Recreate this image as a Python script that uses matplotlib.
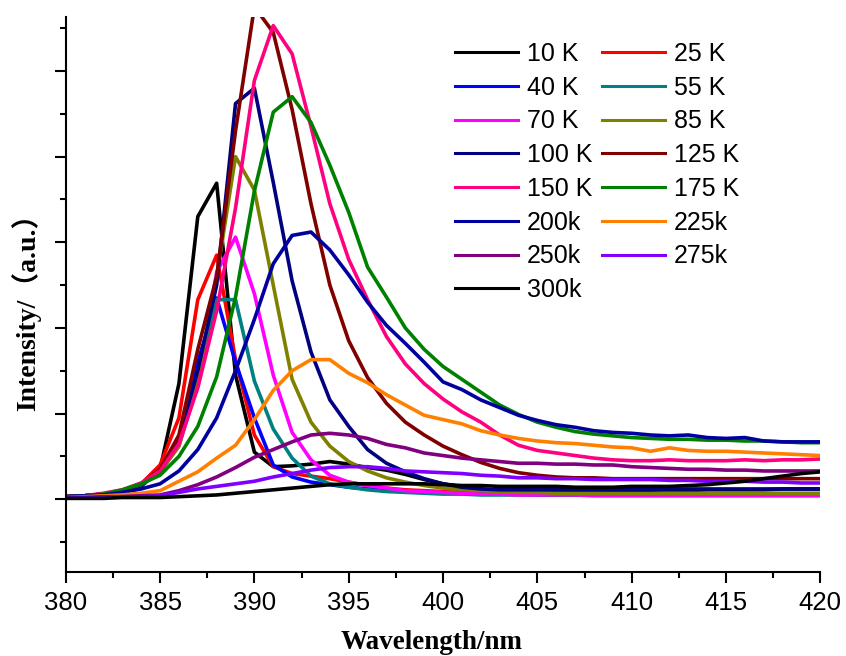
import numpy as np
import matplotlib.pyplot as plt
from matplotlib.ticker import MultipleLocator

plt.rcParams['font.family'] = ['Liberation Sans', 'DejaVu Sans']

# wavelength grid (nm), 1 nm steps
wavelength = np.arange(380, 421)

labels = ['10 K', '25 K', '40 K', '55 K', '70 K', '85 K', '100 K', '125 K',
          '150 K', '175 K', '200k', '225k', '250k', '275k', '300k']
colors = ['#000000', '#FF0000', '#0000FF', '#008080', '#FF00FF', '#808000',
          '#000080', '#800000', '#FF0080', '#008000', '#0000A0', '#FF8000',
          '#800080', '#8000FF', '#000000']

# intensities (arbitrary units)
k10 = [0.02, 0.03, 0.05, 0.08, 0.15, 0.35,
       1.35, 3.3, 3.69, 1.45, 0.55,
       0.38, 0.39, 0.41, 0.44, 0.41,
       0.37, 0.34, 0.29, 0.23, 0.18,
       0.15, 0.12, 0.1, 0.09, 0.09,
       0.09, 0.09, 0.1, 0.1, 0.1,
       0.1, 0.1, 0.1, 0.11, 0.11,
       0.11, 0.11, 0.12, 0.12, 0.12]
k25 = [0.03, 0.04, 0.06, 0.1, 0.18, 0.4,
       0.95, 2.33, 2.85, 1.63, 0.75,
       0.38, 0.3, 0.27, 0.24, 0.2,
       0.16, 0.13, 0.11, 0.1, 0.09,
       0.08, 0.08, 0.07, 0.07, 0.07,
       0.07, 0.07, 0.07, 0.06, 0.06,
       0.06, 0.06, 0.06, 0.06, 0.06,
       0.06, 0.06, 0.06, 0.06, 0.06]
k40 = [0.03, 0.04, 0.06, 0.1, 0.17, 0.32,
       0.7, 1.6, 2.35, 1.6, 0.95,
       0.4, 0.26, 0.2, 0.17, 0.14,
       0.12, 0.1, 0.09, 0.08, 0.07,
       0.07, 0.06, 0.06, 0.06, 0.05,
       0.05, 0.05, 0.05, 0.05, 0.05,
       0.05, 0.05, 0.05, 0.05, 0.05,
       0.05, 0.05, 0.05, 0.05, 0.05]
k55 = [0.03, 0.04, 0.06, 0.1, 0.17, 0.3,
       0.65, 1.45, 2.33, 2.33, 1.38,
       0.82, 0.48, 0.27, 0.18, 0.14,
       0.11, 0.09, 0.08, 0.07, 0.06,
       0.06, 0.05, 0.05, 0.05, 0.05,
       0.05, 0.05, 0.05, 0.05, 0.05,
       0.05, 0.05, 0.05, 0.05, 0.05,
       0.05, 0.05, 0.05, 0.05, 0.05]
k70 = [0.03, 0.04, 0.06, 0.1, 0.18, 0.32,
       0.62, 1.35, 2.65, 3.06, 2.4,
       1.45, 0.78, 0.46, 0.28, 0.2,
       0.16, 0.13, 0.1, 0.09, 0.08,
       0.07, 0.06, 0.06, 0.05, 0.05,
       0.05, 0.05, 0.04, 0.04, 0.04,
       0.04, 0.04, 0.04, 0.04, 0.04,
       0.04, 0.04, 0.04, 0.04, 0.04]
k85 = [0.03, 0.04, 0.06, 0.1, 0.18, 0.32,
       0.62, 1.4, 2.6, 4.0, 3.61,
       2.5, 1.4, 0.9, 0.62, 0.44,
       0.33, 0.25, 0.2, 0.16, 0.13,
       0.11, 0.1, 0.09, 0.08, 0.08,
       0.07, 0.07, 0.07, 0.07, 0.07,
       0.07, 0.07, 0.07, 0.07, 0.07,
       0.07, 0.07, 0.07, 0.07, 0.07]
k100 = [0.03, 0.04, 0.06, 0.1, 0.18, 0.33,
        0.7, 1.5, 2.5, 4.62, 4.8,
        3.7, 2.55, 1.72, 1.16, 0.85,
        0.58, 0.42, 0.32, 0.24, 0.18,
        0.14, 0.12, 0.11, 0.11, 0.11,
        0.11, 0.11, 0.11, 0.11, 0.11,
        0.11, 0.12, 0.12, 0.12, 0.12,
        0.12, 0.12, 0.12, 0.12, 0.12]
k125 = [0.03, 0.04, 0.06, 0.1, 0.18, 0.35,
        0.75, 1.75, 2.6, 4.3, 5.75,
        5.45, 4.55, 3.45, 2.5, 1.85,
        1.42, 1.12, 0.9, 0.75, 0.62,
        0.52, 0.43, 0.36, 0.31, 0.28,
        0.26, 0.25, 0.25, 0.24, 0.24,
        0.24, 0.24, 0.24, 0.24, 0.24,
        0.24, 0.24, 0.24, 0.24, 0.24]
k150 = [0.03, 0.04, 0.07, 0.11, 0.19, 0.33,
        0.65, 1.3, 2.2, 3.4, 4.89,
        5.53, 5.2, 4.35, 3.45, 2.8,
        2.33, 1.9, 1.58, 1.35, 1.17,
        1.02, 0.9, 0.75, 0.63, 0.57,
        0.54, 0.51, 0.48, 0.46, 0.45,
        0.45, 0.46, 0.45, 0.45, 0.45,
        0.46, 0.45, 0.46, 0.46, 0.47]
k175 = [0.03, 0.04, 0.06, 0.11, 0.18, 0.28,
        0.5, 0.85, 1.43, 2.36, 3.6,
        4.52, 4.7, 4.4, 3.9, 3.35,
        2.71, 2.36, 2.0, 1.75, 1.55,
        1.4, 1.25, 1.1, 0.99, 0.9,
        0.84, 0.79, 0.76, 0.74, 0.72,
        0.71, 0.7, 0.7, 0.69, 0.69,
        0.68, 0.68, 0.67, 0.66, 0.66]
k200 = [0.03, 0.04, 0.05, 0.08, 0.12, 0.18,
        0.33, 0.58, 0.95, 1.5, 2.1,
        2.75, 3.08, 3.12, 2.91, 2.62,
        2.3, 2.03, 1.82, 1.6, 1.37,
        1.28, 1.16, 1.07, 0.98, 0.92,
        0.87, 0.84, 0.8, 0.78, 0.77,
        0.75, 0.74, 0.75, 0.72, 0.71,
        0.72, 0.68, 0.67, 0.67, 0.67]
k225 = [0.02, 0.03, 0.04, 0.05, 0.07, 0.1,
        0.21, 0.32, 0.48, 0.63, 0.93,
        1.27, 1.5, 1.63, 1.63, 1.47,
        1.36, 1.22, 1.1, 0.98, 0.93,
        0.88, 0.8, 0.75, 0.71, 0.68,
        0.66, 0.65, 0.63, 0.61, 0.6,
        0.56, 0.6, 0.57, 0.56, 0.56,
        0.55, 0.54, 0.53, 0.52, 0.51]
k250 = [0.02, 0.02, 0.03, 0.03, 0.04, 0.05,
        0.1, 0.17, 0.26, 0.37, 0.49,
        0.58, 0.67, 0.75, 0.77, 0.75,
        0.71, 0.64, 0.6, 0.54, 0.51,
        0.48, 0.46, 0.44, 0.42, 0.42,
        0.41, 0.41, 0.4, 0.4, 0.38,
        0.37, 0.36, 0.35, 0.35, 0.34,
        0.34, 0.33, 0.33, 0.33, 0.33]
k275 = [0.02, 0.02, 0.02, 0.03, 0.03, 0.04,
        0.08, 0.12, 0.15, 0.18, 0.21,
        0.26, 0.3, 0.34, 0.37, 0.38,
        0.38, 0.36, 0.33, 0.32, 0.31,
        0.3, 0.28, 0.27, 0.25, 0.25,
        0.24, 0.24, 0.23, 0.23, 0.23,
        0.23, 0.22, 0.22, 0.21, 0.21,
        0.21, 0.2, 0.2, 0.19, 0.19]
k300 = [0.01, 0.01, 0.01, 0.02, 0.02, 0.02,
        0.03, 0.04, 0.05, 0.07, 0.09,
        0.11, 0.13, 0.15, 0.17, 0.18,
        0.18, 0.18, 0.18, 0.18, 0.17,
        0.16, 0.16, 0.15, 0.15, 0.15,
        0.15, 0.14, 0.14, 0.14, 0.15,
        0.15, 0.15, 0.16, 0.17, 0.19,
        0.21, 0.24, 0.27, 0.3, 0.32]

series = [k10, k25, k40, k55, k70, k85, k100, k125,
          k150, k175, k200, k225, k250, k275, k300]

fig = plt.figure(figsize=(8.46, 6.56), dpi=100)
ax = fig.add_axes([0.0777, 0.128, 0.892, 0.846])

handles = []
for vals, lab, col in zip(series, labels, colors):
    ln, = ax.plot(wavelength, vals, color=col, lw=2.6, label=lab)
    handles.append(ln)

ax.set_xlim(380, 420)
ax.set_ylim(-0.85, 5.63)
ax.xaxis.set_major_locator(MultipleLocator(5))
ax.xaxis.set_minor_locator(MultipleLocator(2.5))
ax.yaxis.set_major_locator(MultipleLocator(1))
ax.yaxis.set_minor_locator(MultipleLocator(0.5))
ax.tick_params(which='major', direction='out', length=8, width=1.5,
               labelsize=18.5, pad=6)
ax.tick_params(which='minor', direction='out', length=4.5, width=1.5)
ax.tick_params(axis='y', labelleft=False)
for side in ['top', 'right']:
    ax.spines[side].set_visible(False)
for side in ['left', 'bottom']:
    ax.spines[side].set_linewidth(1.5)

ax.set_xlabel('Wavelength/nm', fontsize=19.5, fontweight='bold',
              family=['Liberation Serif', 'DejaVu Serif'])
ax.xaxis.set_label_coords(0.485, -0.104)
ax.set_ylabel('Intensity/（a.u.）', fontsize=20, fontweight='bold',
              family=['Liberation Serif', 'Noto Sans CJK SC'])
ax.yaxis.set_label_coords(-0.033, 0.48)

# row-wise order in two columns
order = handles[0::2] + handles[1::2]
leg = ax.legend(order, [h.get_label() for h in order], ncol=2,
                loc='upper left', bbox_to_anchor=(0.516, 0.9555),
                frameon=False, fontsize=18, handlelength=2.5,
                handletextpad=0.36, columnspacing=0.4, labelspacing=0.39,
                borderpad=0, borderaxespad=0)
for h in leg.get_lines():
    h.set_linewidth(2.2)

fig.savefig('out.png', dpi=100)
